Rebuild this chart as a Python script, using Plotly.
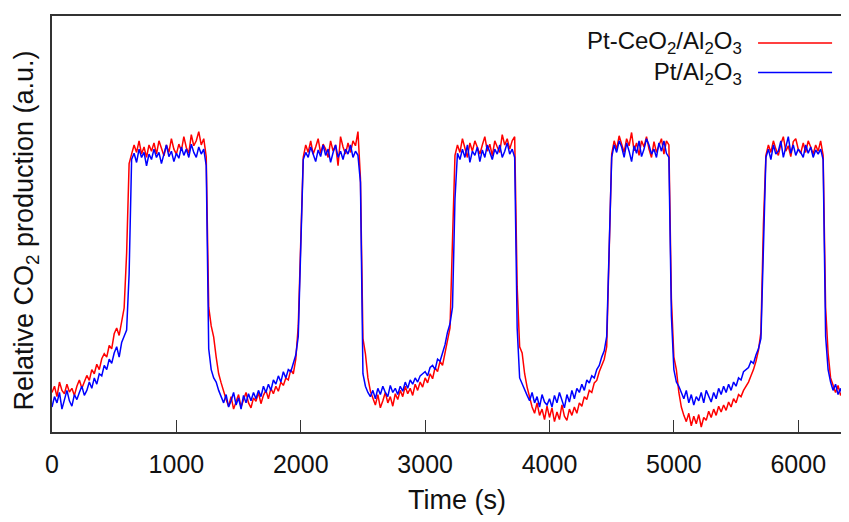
import plotly.graph_objects as go

# time axis (s), sampled every 20 s
time_s = list(range(0, 6401, 20))

# Relative CO2 production (a.u., 0-1000 scale)
pt_ceo2 = [
    95, 110, 85, 120, 100, 92, 115, 96, 105, 88,
    110, 125, 105, 120, 136, 124, 150, 140, 163, 150,
    176, 188, 180, 208, 200, 236, 250, 232, 270, 298,
    430, 645, 668, 690, 672, 700, 668, 685, 660, 690,
    675, 695, 668, 700, 682, 664, 690, 672, 705, 680,
    668, 692, 676, 710, 684, 670, 715, 688, 700, 722,
    690, 705, 662, 300, 255, 228, 180, 140, 118, 95,
    78, 62, 85, 55, 72, 90, 60, 78, 95, 70,
    58, 82, 74, 95, 68, 88, 100, 80, 105, 92,
    110, 98, 120, 112, 130, 125, 150, 140, 175, 255,
    470, 660, 690, 672, 700, 668, 685, 705, 670, 692,
    680, 660, 700, 675, 690, 640, 710, 685, 668, 695,
    672, 700, 688, 722, 610, 225, 188, 130, 98, 80,
    65, 90, 58, 75, 95, 70, 85, 62, 92, 78,
    100, 85, 110, 92, 105, 88, 115, 100, 120, 108,
    130, 118, 140, 128, 155, 145, 170, 160, 190, 215,
    250, 460, 665, 690, 672, 705, 680, 660, 695, 675,
    700, 682, 668, 690, 710, 675, 692, 664, 700, 685,
    672, 715, 690, 705, 680, 700, 710, 350, 205, 190,
    140, 108, 80, 60, 45, 70, 40, 55, 30, 62,
    35, 58, 25, 48, 30, 65, 38, 28, 55, 40,
    60, 45, 70, 62, 85, 78, 100, 95, 118, 124,
    145, 160, 175, 205, 450, 668, 700, 680, 712, 690,
    672, 705, 688, 720, 676, 695, 665, 700, 685, 710,
    680, 660, 698, 672, 690, 705, 668, 700, 690, 320,
    180, 150, 95, 60, 40, 25, 45, 15, 38, 20,
    42, 12, 35, 28, 50, 35, 55, 40, 62, 48,
    65, 52, 72, 60, 80, 70, 90, 85, 100, 110,
    120, 135, 150, 170, 196, 240, 500, 665, 690, 672,
    700, 680, 665, 692, 710, 675, 688, 662, 698, 705,
    680, 670, 695, 672, 700, 685, 668, 690, 675, 700,
    665, 300, 190, 130, 110, 95, 112, 88, 100, 80,
    75,
]

pt_only = [
    60, 85, 70, 95, 55, 80, 100, 75, 62, 90,
    78, 95, 110, 88, 100, 120, 105, 130, 115, 140,
    135, 160, 150, 175, 165, 190, 205, 180, 215, 230,
    245, 380, 655, 670, 648, 680, 660, 672, 640, 668,
    655, 680, 660, 672, 645, 668, 690, 662, 675, 650,
    670, 658, 685, 665, 680, 660, 692, 672, 660, 685,
    668, 680, 640, 200, 150, 130, 120, 100, 85, 70,
    90, 60, 75, 95, 65, 82, 55, 88, 70, 92,
    75, 95, 80, 100, 85, 110, 95, 115, 100, 125,
    115, 135, 120, 145, 130, 150, 145, 165, 185, 230,
    440, 655, 672, 660, 685, 668, 650, 678, 662, 690,
    665, 680, 648, 672, 690, 660, 675, 655, 680, 668,
    690, 660, 675, 665, 600, 140, 110, 95, 85, 100,
    80, 105, 90, 110, 95, 85, 112, 95, 105, 90,
    110, 98, 120, 105, 125, 115, 130, 120, 135, 140,
    145, 135, 155, 160, 150, 175, 170, 190, 210, 240,
    260, 300, 560, 670, 655, 680, 660, 690, 648, 675,
    665, 685, 650, 678, 660, 690, 672, 655, 680, 668,
    690, 660, 675, 695, 668, 680, 660, 250, 130, 115,
    100, 88, 75, 95, 70, 85, 60, 90, 72, 65,
    80, 60, 88, 70, 95, 75, 58, 90, 72, 100,
    80, 105, 95, 115, 100, 125, 118, 135, 130, 150,
    160, 180, 195, 230, 420, 660, 690, 672, 700, 685,
    660, 695, 675, 650, 688, 670, 700, 662, 680, 705,
    690, 668, 680, 660, 695, 675, 700, 670, 660, 280,
    150, 120, 110, 95, 80, 100, 70, 90, 65, 85,
    75, 95, 70, 100, 85, 72, 95, 80, 105, 90,
    110, 95, 115, 100, 120, 110, 130, 125, 145, 150,
    155, 170, 165, 185, 200, 225, 460, 660, 680, 655,
    690, 668, 675, 700, 660, 685, 710, 670, 690, 665,
    680, 672, 660, 690, 670, 685, 660, 678, 668, 680,
    655, 230, 150, 120, 100, 115, 90, 105, 80, 95,
    70,
]

series_names = ["Pt-CeO<sub>2</sub>/Al<sub>2</sub>O<sub>3</sub>", "Pt/Al<sub>2</sub>O<sub>3</sub>"]
x_ticks = [0, 1000, 2000, 3000, 4000, 5000, 6000]
x_title = "Time (s)"
y_title = "Relative CO<sub>2</sub> production (a.u.)"

RED = "#ff0000"
BLUE = "#0000ff"
FONT = "Liberation Sans, Arial, sans-serif"
TXT = "#111"

fig = go.Figure()
fig.add_trace(go.Scatter(x=time_s, y=pt_ceo2, mode="lines",
                         line=dict(color=RED, width=1.5), name=series_names[0]))
fig.add_trace(go.Scatter(x=time_s, y=pt_only, mode="lines",
                         line=dict(color=BLUE, width=1.5), name=series_names[1]))

fig.update_layout(
    width=849, height=522,
    margin=dict(l=44, r=9, t=6, b=98),
    plot_bgcolor="white", paper_bgcolor="white",
    showlegend=False,
    font=dict(family=FONT, size=25, color=TXT),
    xaxis=dict(range=[0, 6400], tickvals=x_ticks, ticks="inside", ticklen=12,
               tickcolor="#333", tickwidth=1.2,
               showline=True, linecolor="#333", linewidth=1.5, mirror=True,
               showgrid=False, zeroline=False, ticklabelstandoff=9,
               tickfont=dict(size=25)),
    yaxis=dict(range=[0, 1000], showticklabels=False, ticks="",
               showline=True, linecolor="#333", linewidth=1.5, mirror=False,
               showgrid=False, zeroline=False),
)

# axis titles
fig.add_annotation(xref="paper", yref="paper", x=0.509, y=-0.163, text=x_title,
                   showarrow=False, xanchor="center", yanchor="middle",
                   font=dict(size=27, family=FONT, color=TXT))
fig.add_annotation(xref="paper", yref="paper", x=-0.032, y=0.483, text=y_title,
                   textangle=-90, showarrow=False, xanchor="center", yanchor="middle",
                   font=dict(size=27, family=FONT, color=TXT))

# legend drawn at the upper right: right-aligned text block, line samples to its right
fig.add_annotation(xref="paper", yref="paper", x=0.869, y=0.899,
                   text="<br>".join(series_names), align="right",
                   showarrow=False, xanchor="right", yanchor="middle",
                   font=dict(size=24, family=FONT, color=TXT))
leg_y = [0.935, 0.864]
for col, yy in zip([RED, BLUE], leg_y):
    fig.add_shape(type="line", xref="paper", yref="paper", x0=0.887, x1=0.980,
                  y0=yy, y1=yy, line=dict(color=col, width=1.5))

fig.write_html("out.html")
